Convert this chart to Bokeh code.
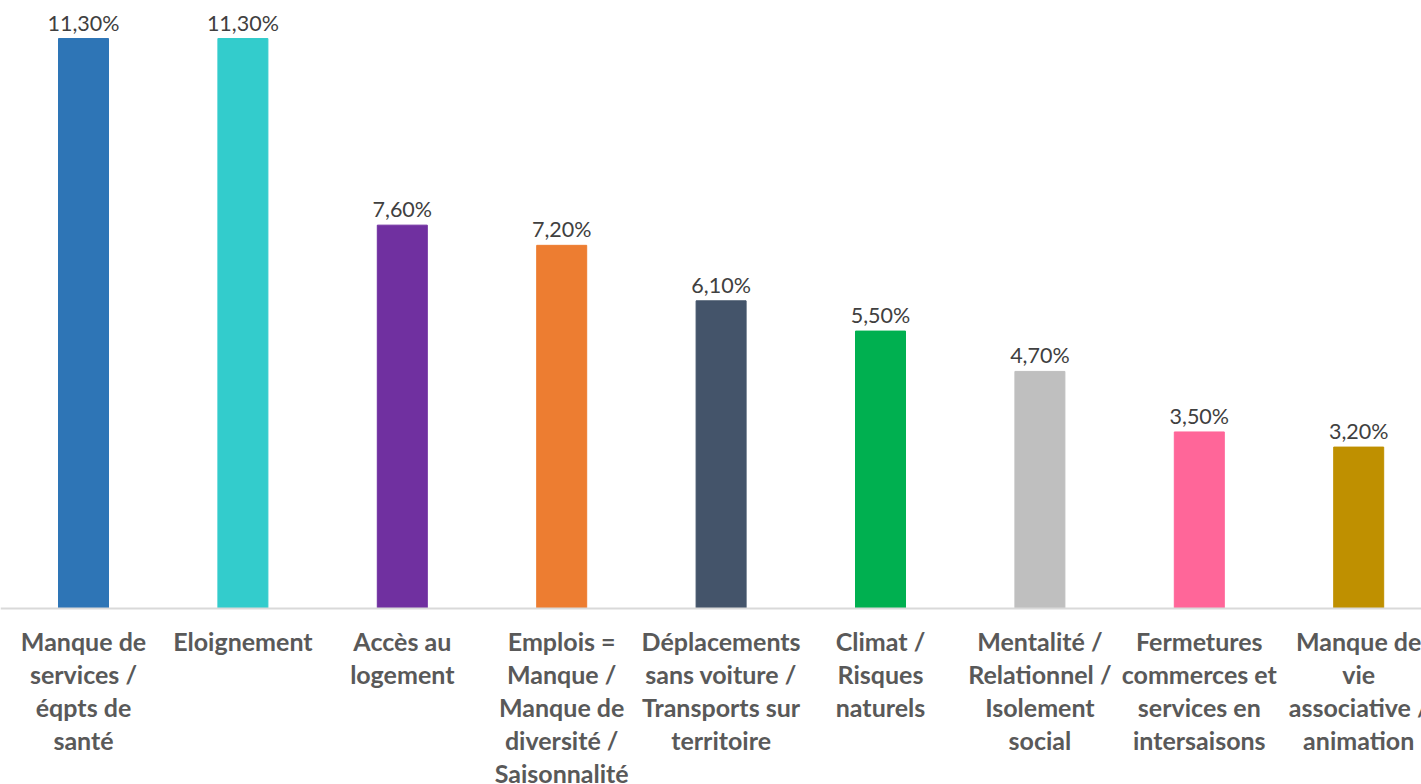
from bokeh.plotting import figure
from bokeh.models import Range1d, ColumnDataSource, Span
from bokeh.core.properties import value
from bokeh.embed import file_html
from bokeh.resources import INLINE

categories = [
    "Manque de\nservices /\néqpts de\nsanté",
    "Eloignement",
    "Accès au\nlogement",
    "Emplois =\nManque /\nManque de\ndiversité /\nSaisonnalité",
    "Déplacements\nsans voiture /\nTransports sur\nterritoire",
    "Climat /\nRisques\nnaturels",
    "Mentalité /\nRelationnel /\nIsolement\nsocial",
    "Fermetures\ncommerces et\nservices en\nintersaisons",
    "Manque de\nvie\nassociative /\nanimation",
]
values = [11.3, 11.3, 7.6, 7.2, 6.1, 5.5, 4.7, 3.5, 3.2]
colors = ["#2E75B6", "#33CCCC", "#7030A0", "#ED7D31", "#44546A",
          "#00B050", "#BFBFBF", "#FF6699", "#BF9000"]
value_labels = [("%.2f%%" % v).replace(".", ",") for v in values]

xs = list(range(len(categories)))
FONT = "Lato"

W, H = 1421, 784
unit = 159.4          # px per category
ppu = 50.44           # px per percent
base_px = 608         # baseline position from top
x0 = -83.0 / unit
p = figure(width=W, height=H, output_backend="svg", toolbar_location=None,
           x_range=Range1d(x0, x0 + W / unit),
           y_range=Range1d(-(H - base_px) / ppu, base_px / ppu),
           min_border=0)
p.outline_line_color = None
p.background_fill_color = "white"
p.border_fill_color = "white"
p.grid.visible = False
p.axis.visible = False

p.add_layout(Span(location=0, dimension="width", line_color="#D9D9D9",
                  line_width=2))

src = ColumnDataSource(dict(x=xs, top=values, color=colors, lab=value_labels,
                            y0=[0] * len(xs), cat=categories))
p.vbar(x="x", top="top", width=50 / unit, color="color", source=src)
p.text(x="x", y="top", text="lab", source=src, text_align="center",
       text_baseline="middle", y_offset=-16, text_color="#404040",
       text_font=value(FONT), text_font_size="21.5px")
p.text(x="x", y="y0", text="cat", source=src, text_align="center",
       text_baseline="top", y_offset=17, text_color="#595959",
       text_font=value(FONT), text_font_style="bold", text_font_size="25px",
       text_line_height=1.1)

open("out.html", "w").write(file_html(p, INLINE))
